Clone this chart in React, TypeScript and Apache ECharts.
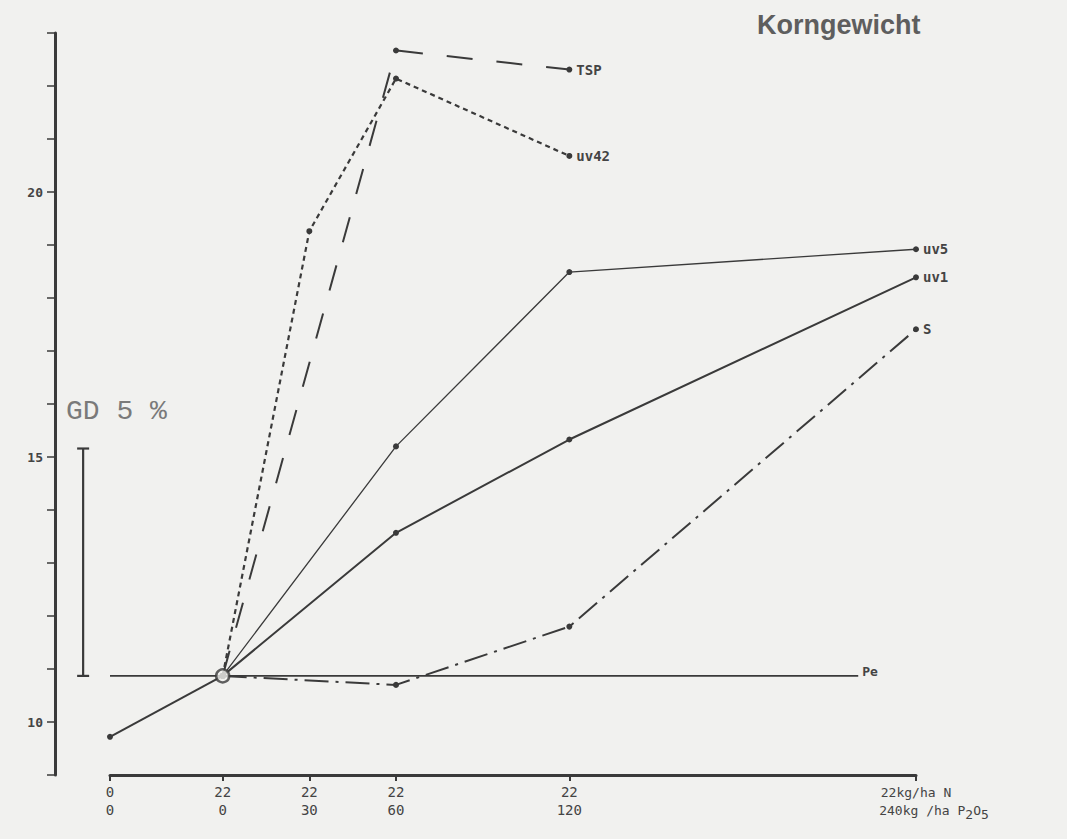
import React, { useEffect, useRef } from 'react';
import * as echarts from 'echarts';

// x positions: P2O5 amount (kg/ha); the unfertilised control is placed left of 0
const xPositions = [-39, 0, 30, 60, 120, 240];
const nLabels = ['0', '22', '22', '22', '22', '22kg/ha N'];
const pLabels = ['0', '0', '30', '60', '120', '240kg /ha P2O5'];

const yTickLabels = [10, 15, 20];

// Korngewicht values per fertiliser
const baseValues = [9.72, 10.87, null, null, null, null];
const tspValues = [null, 10.87, null, 22.67, 22.31, null];
const uv42Values = [null, 10.87, 19.26, 22.14, 20.68, null];
const uv5Values = [null, 10.87, null, 15.2, 18.49, 18.92];
const uv1Values = [null, 10.87, null, 13.57, 15.33, 18.39];
const sValues = [null, 10.87, null, 10.7, 11.8, 17.41];

const peValue = 10.87;
const peEnd = 220;

const gdX = -48.3;
const gdLow = 10.87;
const gdHigh = 15.16;

const INK = '#3a3a3a';
const BG = '#f1f1ef';
const LABEL_FONT = 'DejaVu Sans Mono';

function buildData(values: (number | null)[], name: string | null) {
  const pts: any[] = [];
  let lastIdx = -1;
  values.forEach((v, i) => {
    if (v != null) lastIdx = i;
  });
  values.forEach((v, i) => {
    if (v == null) return;
    if (i === lastIdx && name) {
      pts.push({
        value: [xPositions[i], v],
        label: {
          show: true,
          position: 'right',
          distance: 4,
          formatter: name,
          color: '#444',
          fontFamily: LABEL_FONT,
          fontWeight: 'bold',
          fontSize: 14,
        },
      });
    } else {
      pts.push([xPositions[i], v]);
    }
  });
  return pts;
}

function lineSeries(name: string, values: (number | null)[], lineStyle: any, label: string | null) {
  return {
    type: 'line',
    name,
    data: buildData(values, label),
    symbol: 'circle',
    symbolSize: 6,
    showAllSymbol: true,
    connectNulls: true,
    itemStyle: { color: INK },
    lineStyle: { color: INK, ...lineStyle },
    z: 3,
  };
}

export default function App() {
  const ref = useRef<HTMLDivElement>(null);
  useEffect(() => {
    if (!ref.current) return;
    const chart = echarts.init(ref.current, null, { renderer: 'svg' });
    const option: any = {
      animation: false,
      backgroundColor: BG,
      grid: { left: 110, right: 151, top: 33, bottom: 64, containLabel: false },
      title: {
        text: 'Korngewicht',
        left: 752,
        top: 6,
        textStyle: {
          fontFamily: 'Liberation Sans',
          fontWeight: 'bold',
          fontSize: 27,
          color: '#5e5e5e',
        },
      },
      graphic: [
        {
          type: 'text',
          left: 66,
          top: 397,
          style: {
            text: 'GD 5 %',
            font: '28px "Liberation Mono"',
            fill: '#7a7a7a',
          },
        },
      ],
      xAxis: {
        type: 'value',
        min: -39,
        max: 240,
        splitLine: { show: false },
        axisLine: { show: true, onZero: false, lineStyle: { color: INK, width: 3 } },
        axisTick: {
          show: true,
          customValues: xPositions,
          length: 6,
          lineStyle: { color: INK, width: 2 },
        },
        axisLabel: {
          customValues: xPositions,
          margin: 8,
          color: '#444',
          fontFamily: LABEL_FONT,
          fontSize: 14,
          lineHeight: 18,
          formatter: (v: number) => {
            const i = xPositions.indexOf(v);
            if (i < 0) return '';
            if (i === xPositions.length - 1) {
              return '{a|' + nLabels[i] + '}\n{pad|}{a|240kg /ha P}{sub|2}{a|O}{sub|5}';
            }
            return nLabels[i] + '\n' + pLabels[i];
          },
          rich: {
            a: { fontFamily: LABEL_FONT, fontSize: 13, color: '#444', lineHeight: 18 },
            sub: { fontFamily: LABEL_FONT, fontSize: 13, color: '#444', lineHeight: 18, padding: [8, 0, 0, 0] },
            pad: { width: 36 },
          },
        },
      },
      yAxis: {
        type: 'value',
        min: 9,
        max: 23,
        interval: 1,
        offset: 55,
        splitLine: { show: false },
        axisLine: { show: true, onZero: false, lineStyle: { color: INK, width: 3 } },
        axisTick: { show: true, inside: false, length: 8, lineStyle: { color: INK, width: 1.5 } },
        axisLabel: {
          margin: 12,
          color: '#444',
          fontFamily: LABEL_FONT,
          fontWeight: 'bold',
          fontSize: 13,
          padding: [0, 0, 6, 0],
          formatter: (v: number) => (yTickLabels.indexOf(v) >= 0 ? String(v) : ''),
        },
      },
      series: [
        {
          type: 'line',
          name: 'Kontrolle',
          data: buildData(baseValues, null),
          symbol: 'circle',
          symbolSize: 6,
          connectNulls: true,
          itemStyle: { color: INK },
          lineStyle: { color: INK, width: 2 },
        },
        {
          type: 'line',
          name: 'Pe',
          data: [
            [xPositions[0], peValue],
            {
              value: [peEnd, peValue],
              label: {
                show: true,
                position: 'right',
                distance: 4,
                offset: [0, -4],
                formatter: 'Pe',
                color: '#444',
                fontFamily: LABEL_FONT,
                fontWeight: 'bold',
                fontSize: 13,
              },
            },
          ],
          symbol: 'circle',
          symbolSize: 0,
          showAllSymbol: true,
          itemStyle: { color: INK },
          lineStyle: { color: INK, width: 1.6 },
          z: 2,
        },
        lineSeries('TSP', tspValues, { width: 2, type: [26, 24] }, 'TSP'),
        lineSeries('uv42', uv42Values, { width: 2.2, type: [5, 4] }, 'uv42'),
        lineSeries('uv5', uv5Values, { width: 1.3 }, 'uv5'),
        lineSeries('uv1', uv1Values, { width: 2 }, 'uv1'),
        lineSeries('S', sValues, { width: 2, type: [24, 7, 3, 7] }, 'S'),
        {
          type: 'scatter',
          name: 'Ausgang',
          data: [[xPositions[1], peValue]],
          symbol: 'circle',
          symbolSize: 13,
          itemStyle: { color: BG, borderColor: INK, borderWidth: 2.5 },
          z: 10,
        },
        {
          type: 'custom',
          name: 'GD 5 %',
          clip: false,
          data: [[gdX, gdLow, gdHigh]],
          renderItem: (params: any, api: any) => {
            const x = api.value(0);
            const lo = api.coord([x, api.value(1)]);
            const hi = api.coord([x, api.value(2)]);
            const cap = 6;
            const st = { stroke: INK, lineWidth: 2.2 };
            return {
              type: 'group',
              children: [
                { type: 'line', shape: { x1: lo[0], y1: lo[1], x2: hi[0], y2: hi[1] }, style: st },
                { type: 'line', shape: { x1: lo[0] - cap, y1: lo[1], x2: lo[0] + cap, y2: lo[1] }, style: st },
                { type: 'line', shape: { x1: hi[0] - cap, y1: hi[1], x2: hi[0] + cap, y2: hi[1] }, style: st },
              ],
            };
          },
          z: 3,
        },
      ],
    };
    chart.setOption(option);
    return () => chart.dispose();
  }, []);
  return (
    <div
      ref={ref}
      style={{ position: 'fixed', left: 0, top: 0, width: 1067, height: 839, background: BG }}
    />
  );
}
